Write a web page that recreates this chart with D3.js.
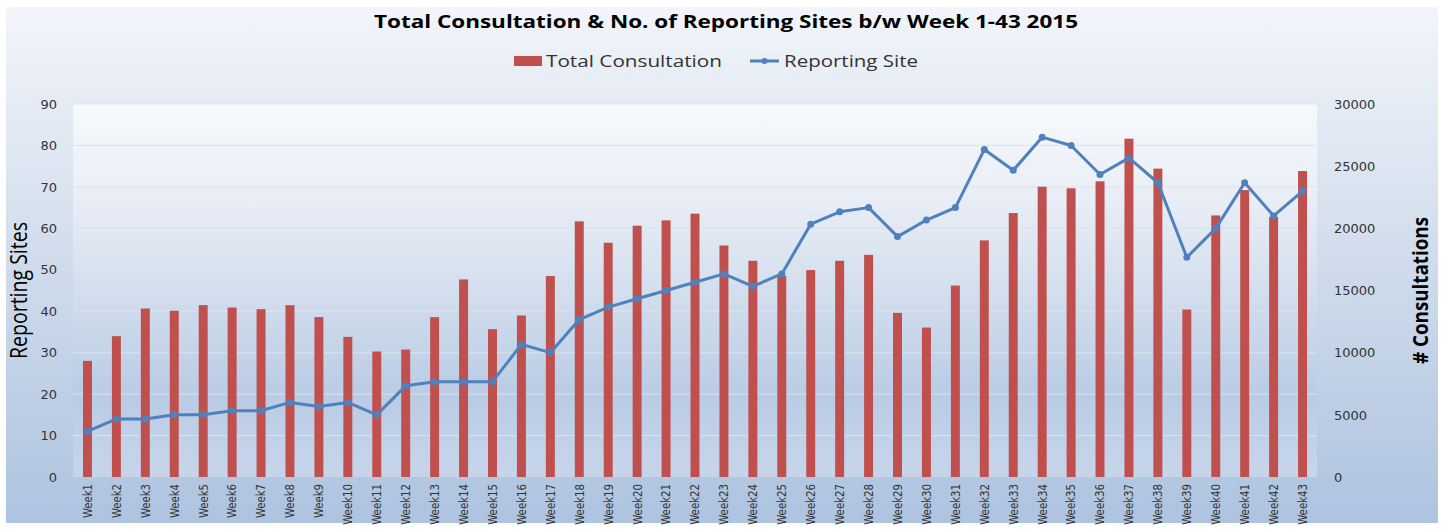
<!DOCTYPE html>
<html>
<head>
<meta charset="utf-8">
<script src="https://cdn.jsdelivr.net/npm/d3@7"></script>
<style>
  body { margin: 0; background: #ffffff; }
  svg { display: block; }
</style>
</head>
<body>
<div id="chart"></div>
<script>
// weeks and the two series
const weeks = d3.range(1, 44).map(i => "Week" + i);

const consultations = [9340, 11330, 13550, 13370, 13820, 13630, 13500, 13820, 12860, 11270,
  10090, 10250, 12860, 15890, 11890, 12990, 16160, 20560, 18840, 20210,
  20640, 21180, 18620, 17390, 16160, 16640, 17390, 17870, 13200, 12020,
  15400, 19030, 21230, 23350, 23220, 23780, 27210, 24800, 13470, 21040,
  23080, 20910, 24610];

const reportingSites = [11, 14, 14, 15, 15, 16, 16, 18, 17, 18,
  15, 22, 23, 23, 23, 32, 30, 38, 41, 43,
  45, 47, 49, 46, 49, 61, 64, 65, 58, 62,
  65, 79, 74, 82, 80, 73, 77, 71, 53, 60,
  71, 63, 69];

const leftTicks = [0, 10, 20, 30, 40, 50, 60, 70, 80, 90];
const rightTicks = [0, 5000, 10000, 15000, 20000, 25000, 30000];

const W = 1442, H = 529;
const plot = {left: 73, right: 1317, top: 104, bottom: 477};

const svg = d3.select("#chart").append("svg")
    .attr("width", W)
    .attr("height", H);

const defs = svg.append("defs");
const outerGrad = defs.append("linearGradient").attr("id", "outerGrad")
    .attr("x1", 0).attr("y1", 0).attr("x2", 0).attr("y2", 1);
outerGrad.append("stop").attr("offset", "0%").attr("stop-color", "#f2f5fa");
outerGrad.append("stop").attr("offset", "45%").attr("stop-color", "#d3deed");
outerGrad.append("stop").attr("offset", "100%").attr("stop-color", "#adc3df");

const plotGrad = defs.append("linearGradient").attr("id", "plotGrad")
    .attr("x1", 0).attr("y1", 0).attr("x2", 0).attr("y2", 1);
plotGrad.append("stop").attr("offset", "0%").attr("stop-color", "#f7f9fc");
plotGrad.append("stop").attr("offset", "25%").attr("stop-color", "#e9eef6");
plotGrad.append("stop").attr("offset", "55%").attr("stop-color", "#cfdbec");
plotGrad.append("stop").attr("offset", "78%").attr("stop-color", "#b9cce5");
plotGrad.append("stop").attr("offset", "100%").attr("stop-color", "#c7d5ea");

// chart background
svg.append("rect")
    .attr("x", 6).attr("y", 7)
    .attr("width", 1432).attr("height", 516)
    .attr("fill", "url(#outerGrad)");

svg.append("rect")
    .attr("x", plot.left).attr("y", plot.top)
    .attr("width", plot.right - plot.left).attr("height", plot.bottom - plot.top)
    .attr("fill", "url(#plotGrad)");

// scales
const x = d3.scaleBand()
    .domain(weeks)
    .range([plot.left, plot.right])
    .paddingInner(0.69)
    .paddingOuter(0.345);

const yLeft = d3.scaleLinear().domain([0, 90]).range([plot.bottom, plot.top]);
const yRight = d3.scaleLinear().domain([0, 30000]).range([plot.bottom, plot.top]);

// gridlines
svg.append("g")
    .selectAll("line")
    .data(leftTicks.filter(d => d > 0))
    .join("line")
    .attr("x1", plot.left).attr("x2", plot.right)
    .attr("y1", d => yLeft(d)).attr("y2", d => yLeft(d))
    .attr("stroke", "#dde2ea")
    .attr("stroke-width", 1);

// bars
svg.append("g")
    .selectAll("rect")
    .data(consultations)
    .join("rect")
    .attr("x", (d, i) => x(weeks[i]))
    .attr("y", d => yRight(d))
    .attr("width", x.bandwidth())
    .attr("height", d => yRight(0) - yRight(d))
    .attr("fill", "#c0504d");

// line + markers
const line = d3.line()
    .x((d, i) => x(weeks[i]) + x.bandwidth() / 2)
    .y(d => yLeft(d));

svg.append("path")
    .datum(reportingSites)
    .attr("d", line)
    .attr("fill", "none")
    .attr("stroke", "#4f81bd")
    .attr("stroke-width", 3)
    .attr("stroke-linejoin", "round");

svg.append("g")
    .selectAll("circle")
    .data(reportingSites)
    .join("circle")
    .attr("cx", (d, i) => x(weeks[i]) + x.bandwidth() / 2)
    .attr("cy", d => yLeft(d))
    .attr("r", 3.5)
    .attr("fill", "#4f81bd");

// axes
const leftAxis = svg.append("g")
    .attr("transform", `translate(${plot.left},0)`)
    .call(d3.axisLeft(yLeft).tickValues(leftTicks).tickSize(0).tickPadding(16));

const rightAxis = svg.append("g")
    .attr("transform", `translate(${plot.right},0)`)
    .call(d3.axisRight(yRight).tickValues(rightTicks).tickFormat(d3.format("d"))
        .tickSize(0).tickPadding(17));

const bottomAxis = svg.append("g")
    .attr("transform", `translate(0,${plot.bottom})`)
    .call(d3.axisBottom(x).tickSize(0).tickPadding(0));

[leftAxis, rightAxis, bottomAxis].forEach(a => a.select(".domain").remove());

[leftAxis, rightAxis].forEach(a => a.selectAll("text")
    .style("font-family", "'DejaVu Sans', sans-serif")
    .style("font-size", "13px")
    .attr("fill", "#333"));

// narrow week labels, squeezed to the reference length
bottomAxis.selectAll("text")
    .style("font-family", "'Liberation Sans Narrow', 'DejaVu Sans Condensed', sans-serif")
    .style("font-size", "12.5px")
    .attr("fill", "#333")
    .attr("text-anchor", "end")
    .attr("transform", "rotate(-90)")
    .attr("x", -7)
    .attr("y", 0)
    .attr("dy", "0.35em")
    .attr("textLength", d => d.length * 6.8)
    .attr("lengthAdjust", "spacingAndGlyphs");

// axis titles
svg.append("text")
    .attr("transform", `translate(27,${(plot.top + plot.bottom) / 2}) rotate(-90)`)
    .attr("text-anchor", "middle")
    .attr("textLength", 137)
    .attr("lengthAdjust", "spacingAndGlyphs")
    .style("font-family", "'Open Sans', sans-serif")
    .style("font-size", "23px")
    .attr("fill", "#000")
    .text("Reporting Sites");

svg.append("text")
    .attr("transform", `translate(1428,${(plot.top + plot.bottom) / 2}) rotate(-90)`)
    .attr("text-anchor", "middle")
    .attr("textLength", 147)
    .attr("lengthAdjust", "spacingAndGlyphs")
    .style("font-family", "'Open Sans', sans-serif")
    .style("font-size", "22px")
    .style("font-weight", "bold")
    .attr("fill", "#000")
    .text("# Consultations");

// title
svg.append("text")
    .attr("x", 374).attr("y", 28)
    .attr("textLength", 704)
    .attr("lengthAdjust", "spacingAndGlyphs")
    .style("font-family", "'Open Sans', sans-serif")
    .style("font-size", "17.5px")
    .style("font-weight", "bold")
    .attr("fill", "#000")
    .text("Total Consultation & No. of Reporting Sites b/w Week 1-43 2015");

// legend
const legend = svg.append("g").attr("transform", "translate(0,61)");
legend.append("rect")
    .attr("x", 514).attr("y", -5)
    .attr("width", 28).attr("height", 10)
    .attr("fill", "#c0504d");
legend.append("text")
    .attr("x", 546).attr("y", 0).attr("dy", "0.35em")
    .attr("textLength", 176)
    .attr("lengthAdjust", "spacingAndGlyphs")
    .style("font-family", "'Open Sans', sans-serif")
    .style("font-size", "16px")
    .attr("fill", "#333")
    .text("Total Consultation");
legend.append("line")
    .attr("x1", 750).attr("x2", 779)
    .attr("y1", 0).attr("y2", 0)
    .attr("stroke", "#4f81bd").attr("stroke-width", 3);
legend.append("circle")
    .attr("cx", 764.5).attr("cy", 0).attr("r", 3)
    .attr("fill", "#4f81bd");
legend.append("text")
    .attr("x", 784).attr("y", 0).attr("dy", "0.35em")
    .attr("textLength", 134)
    .attr("lengthAdjust", "spacingAndGlyphs")
    .style("font-family", "'Open Sans', sans-serif")
    .style("font-size", "16px")
    .attr("fill", "#333")
    .text("Reporting Site");
</script>
</body>
</html>
